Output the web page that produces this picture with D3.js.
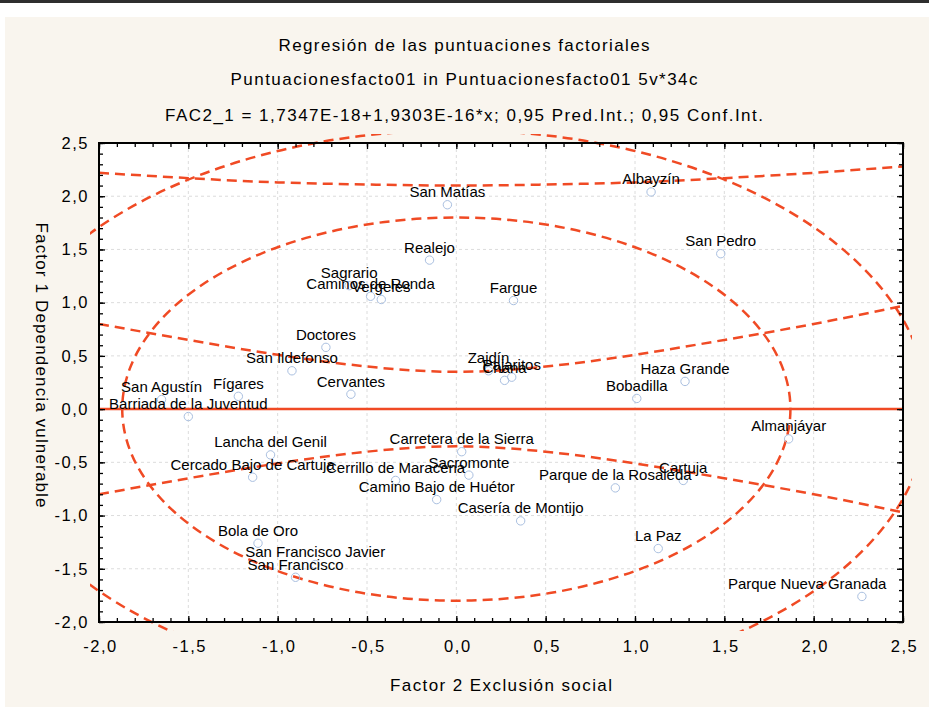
<!DOCTYPE html>
<html>
<head>
<meta charset="utf-8">
<script src="https://cdn.jsdelivr.net/npm/d3@7"></script>
<style>
  body { margin: 0; background: #fff; }
  svg { display: block; font-family: "Liberation Sans", Arial, sans-serif; }
</style>
</head>
<body>
<svg id="chart"></svg>
<script>
// Barrios (34 casos): Factor 2 (x) y Factor 1 (y)
var barrios = [
  'San Matías', 'Realejo', 'Caminos de Ronda', 'Vergeles', 'Sagrario',
  'Albayzín', 'San Pedro', 'Fargue', 'Doctores', 'San Ildefonso',
  'Cervantes', 'Fígares', 'San Agustín', 'Barriada de la Juventud', 'Lancha del Genil',
  'Carretera de la Sierra', 'Zaidín', 'Chana', 'Pajaritos', 'Haza Grande',
  'Bobadilla', 'Almanjáyar', 'Cercado Bajo de Cartuja', 'Cerrillo de Maracena', 'Sacromonte',
  'Camino Bajo de Huétor', 'Bola de Oro', 'San Francisco Javier', 'San Francisco', 'Casería de Montijo',
  'Parque de la Rosaleda', 'Cartuja', 'La Paz', 'Parque Nueva Granada'
];
var fac2 = [
  -0.05, -0.15, -0.48, -0.42, -0.60,
  1.09, 1.48, 0.32, -0.73, -0.92,
  -0.59, -1.22, -1.65, -1.50, -1.04,
  0.03, 0.18, 0.27, 0.31, 1.28,
  1.01, 1.86, -1.14, -0.34, 0.07,
  -0.11, -1.11, -0.79, -0.90, 0.36,
  0.89, 1.27, 1.13, 2.27
];
var fac1 = [
  1.92, 1.40, 1.06, 1.03, 1.16,
  2.04, 1.46, 1.02, 0.58, 0.36,
  0.14, 0.12, 0.09, -0.07, -0.43,
  -0.40, 0.36, 0.27, 0.30, 0.26,
  0.10, -0.28, -0.64, -0.67, -0.62,
  -0.85, -1.26, -1.46, -1.58, -1.05,
  -0.74, -0.67, -1.31, -1.76
];

// recta de regresión (del título)
var intercept = 1.7347e-18;
var slope = 1.9303e-16;

// bandas 0,95
var bandX  = [-2.0, -1.5, -1.0, -0.5, 0.0, 0.5, 1.0, 1.5, 2.0, 2.5];
var predUp = [2.22, 2.17, 2.13, 2.11, 2.10, 2.11, 2.13, 2.17, 2.22, 2.28];
var predLo = [-2.22, -2.17, -2.13, -2.11, -2.10, -2.11, -2.13, -2.17, -2.22, -2.28];
var confUp = [0.80, 0.65, 0.51, 0.40, 0.35, 0.40, 0.51, 0.65, 0.80, 0.97];
var confLo = [-0.80, -0.65, -0.51, -0.40, -0.35, -0.40, -0.51, -0.65, -0.80, -0.97];

// elipses (centro en el origen, semiejes)
var ellipseRx = [1.87, 2.64];
var ellipseRy = [1.80, 2.62];

var xTicks = [-2.0, -1.5, -1.0, -0.5, 0.0, 0.5, 1.0, 1.5, 2.0, 2.5];
var yTicks = [-2.0, -1.5, -1.0, -0.5, 0.0, 0.5, 1.0, 1.5, 2.0, 2.5];

var width = 929,
    height = 719,
    red = '#f04a24',
    plot = { left: 99, right: 903, top: 143, bottom: 622 };

var svg = d3.select('#chart')
  .attr('width', width)
  .attr('height', height);

var x = d3.scaleLinear().domain([-2, 2.5]).range([plot.left, plot.right]);
var y = d3.scaleLinear().domain([-2, 2.5]).range([plot.bottom, plot.top]);

var es = d3.formatLocale({ decimal: ',', thousands: '.', grouping: [3], currency: ['', ''], minus: '-' });
var fmt = es.format('.1f');

// fondo
svg.append('rect').attr('x', 0).attr('y', 0).attr('width', width).attr('height', 3).attr('fill', '#2e2e2e');
svg.append('rect').attr('x', 5).attr('y', 17).attr('width', width - 5).attr('height', 690).attr('fill', '#f9f5ee');
svg.append('rect')
  .attr('x', plot.left).attr('y', plot.top)
  .attr('width', plot.right - plot.left).attr('height', plot.bottom - plot.top)
  .attr('fill', '#fff');

// títulos
var titles = [
  { text: 'Regresión de las puntuaciones factoriales', y: 51, len: 371 },
  { text: 'Puntuacionesfacto01 in Puntuacionesfacto01 5v*34c', y: 85, len: 467 },
  { text: 'FAC2_1 = 1,7347E-18+1,9303E-16*x; 0,95 Pred.Int.; 0,95 Conf.Int.', y: 121, len: 598 }
];
svg.selectAll('text.title')
  .data(titles)
  .enter().append('text')
    .attr('class', 'title')
    .attr('x', 464)
    .attr('y', function (d) { return d.y; })
    .attr('text-anchor', 'middle')
    .attr('font-size', 17)
    .attr('textLength', function (d) { return d.len; })
    .attr('lengthAdjust', 'spacing')
    .text(function (d) { return d.text; });

// rejilla
var grid = svg.append('g').attr('stroke', '#dcdcdc').attr('stroke-dasharray', '3,3');
grid.selectAll('line.gx')
  .data(xTicks.slice(1, -1))
  .enter().append('line')
    .attr('x1', function (d) { return x(d); }).attr('x2', function (d) { return x(d); })
    .attr('y1', plot.top).attr('y2', plot.bottom);
grid.selectAll('line.gy')
  .data(yTicks.slice(1, -1))
  .enter().append('line')
    .attr('y1', function (d) { return y(d); }).attr('y2', function (d) { return y(d); })
    .attr('x1', plot.left).attr('x2', plot.right);

// recortes: elipses algo fuera del marco, bandas justo en el marco
var m = 9;
svg.append('clipPath').attr('id', 'clipEll')
  .append('rect')
    .attr('x', plot.left - m).attr('y', plot.top - m)
    .attr('width', plot.right - plot.left + 2 * m)
    .attr('height', plot.bottom - plot.top + 2 * m);
svg.append('clipPath').attr('id', 'clipPlot')
  .append('rect')
    .attr('x', plot.left).attr('y', plot.top)
    .attr('width', plot.right - plot.left)
    .attr('height', plot.bottom - plot.top);

svg.append('g').attr('clip-path', 'url(#clipEll)')
  .selectAll('ellipse')
  .data(d3.range(ellipseRx.length))
  .enter().append('ellipse')
    .attr('cx', x(0)).attr('cy', y(0))
    .attr('rx', function (i) { return x(ellipseRx[i]) - x(0); })
    .attr('ry', function (i) { return y(0) - y(ellipseRy[i]); })
    .attr('fill', 'none')
    .attr('stroke', red)
    .attr('stroke-width', 2.5)
    .attr('stroke-dasharray', '10,6');

// bandas
var bandLine = d3.line()
  .x(function (d) { return x(d[0]); })
  .y(function (d) { return y(d[1]); })
  .curve(d3.curveNatural);

var bands = svg.append('g').attr('clip-path', 'url(#clipPlot)');
[predUp, predLo, confUp, confLo].forEach(function (vals) {
  bands.append('path')
    .datum(bandX.map(function (bx, i) { return [bx, vals[i]]; }))
    .attr('d', bandLine)
    .attr('fill', 'none')
    .attr('stroke', red)
    .attr('stroke-width', 2.5)
    .attr('stroke-dasharray', '10,6');
});

// recta
svg.append('line')
  .attr('x1', x(-2)).attr('y1', y(intercept + slope * -2))
  .attr('x2', x(2.5)).attr('y2', y(intercept + slope * 2.5))
  .attr('stroke', red)
  .attr('stroke-width', 2.5);

// puntos
var pts = svg.append('g');
pts.selectAll('circle')
  .data(d3.range(barrios.length))
  .enter().append('circle')
    .attr('cx', function (i) { return x(fac2[i]); })
    .attr('cy', function (i) { return y(fac1[i]); })
    .attr('r', 4.2)
    .attr('fill', 'none')
    .attr('stroke', '#a9bfe0')
    .attr('stroke-width', 1);

pts.selectAll('text')
  .data(d3.range(barrios.length))
  .enter().append('text')
    .attr('x', function (i) { return x(fac2[i]); })
    .attr('y', function (i) { return y(fac1[i]) - 7.5; })
    .attr('text-anchor', 'middle')
    .attr('font-size', 15)
    .attr('fill', '#000')
    .text(function (i) { return barrios[i]; })
    .each(function () {
      // mantener la etiqueta dentro del marco
      var box = this.getBBox(),
          over = box.x + box.width - (plot.right - 16);
      if (over > 0) {
        d3.select(this).attr('x', +d3.select(this).attr('x') - over);
      }
    });

// ejes (marcas hacia dentro)
var minorX = d3.range(-20, 26).map(function (v) { return v / 10; });
var minorY = d3.range(-20, 26).map(function (v) { return v / 10; });

function axisGroup(axis, tx, ty) {
  var g = svg.append('g').attr('transform', 'translate(' + tx + ',' + ty + ')').call(axis);
  g.select('.domain').remove();
  g.selectAll('line').attr('stroke', '#000').attr('stroke-width', 1.3);
  return g;
}

axisGroup(d3.axisBottom(x).tickValues(minorX).tickSize(-4).tickFormat(''), 0, plot.bottom);
axisGroup(d3.axisTop(x).tickValues(minorX).tickSize(-4).tickFormat(''), 0, plot.top);
axisGroup(d3.axisLeft(y).tickValues(minorY).tickSize(-4).tickFormat(''), plot.left, 0);
axisGroup(d3.axisRight(y).tickValues(minorY).tickSize(-4).tickFormat(''), plot.right, 0);
axisGroup(d3.axisTop(x).tickValues(xTicks).tickSize(-6).tickFormat(''), 0, plot.top);
axisGroup(d3.axisRight(y).tickValues(yTicks).tickSize(-6).tickFormat(''), plot.right, 0);

var xAxis = axisGroup(d3.axisBottom(x).tickValues(xTicks).tickSize(-6).tickPadding(18).tickFormat(fmt), 0, plot.bottom);
var yAxis = axisGroup(d3.axisLeft(y).tickValues(yTicks).tickSize(-6).tickPadding(11).tickFormat(fmt), plot.left, 0);

[xAxis, yAxis].forEach(function (g) {
  g.selectAll('text')
    .attr('font-family', '"Liberation Sans", Arial, sans-serif')
    .attr('font-size', 16.5)
    .attr('fill', '#000')
    .attr('letter-spacing', 1.5);
});
xAxis.selectAll('text').attr('dx', 1);
yAxis.selectAll('text').attr('x', -10);

// marco
svg.append('rect')
  .attr('x', plot.left).attr('y', plot.top)
  .attr('width', plot.right - plot.left).attr('height', plot.bottom - plot.top)
  .attr('fill', 'none')
  .attr('stroke', '#000')
  .attr('stroke-width', 2);

// títulos de ejes
svg.append('text')
  .attr('x', (plot.left + plot.right) / 2)
  .attr('y', 691)
  .attr('text-anchor', 'middle')
  .attr('font-size', 17)
  .attr('textLength', 222)
  .attr('lengthAdjust', 'spacing')
  .text('Factor 2 Exclusión social');

svg.append('text')
  .attr('transform', 'translate(36,365) rotate(90)')
  .attr('text-anchor', 'middle')
  .attr('font-size', 17)
  .attr('textLength', 285)
  .attr('lengthAdjust', 'spacing')
  .text('Factor 1 Dependencia vulnerable');
</script>
</body>
</html>
